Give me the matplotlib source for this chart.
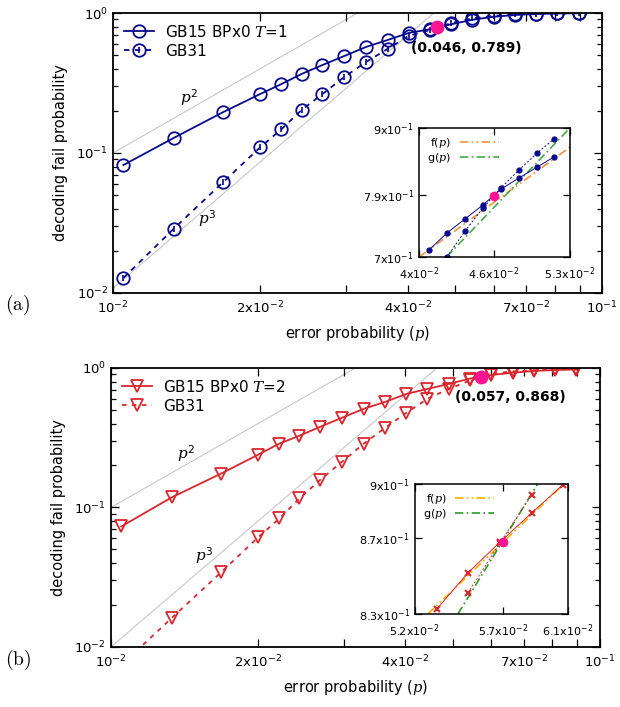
import numpy as np
import matplotlib.pyplot as plt
from matplotlib.ticker import FixedLocator, FixedFormatter, NullLocator, LogLocator
from matplotlib.legend_handler import HandlerTuple

plt.rcParams['mathtext.fontset'] = 'dejavuserif'

# shared error probabilities of the main curves
p_main = [0.0105, 0.0133, 0.0168, 0.0200, 0.0221, 0.0243, 0.0268, 0.0297, 0.0329, 0.0364,
          0.0402, 0.0444, 0.0491, 0.0543, 0.0600, 0.0663, 0.0733, 0.0810, 0.0895]

# panel (a), T=1
gb15_t1 = [0.082, 0.128, 0.196, 0.264, 0.311, 0.367, 0.425, 0.493, 0.572, 0.641,
           0.720, 0.765, 0.830, 0.895, 0.940, 0.968, 0.984, 0.992, 0.996]
gb31_t1 = [0.0128, 0.0287, 0.062, 0.110, 0.148, 0.203, 0.264, 0.349, 0.447, 0.553,
           0.685, 0.755, 0.845, 0.915, 0.955, 0.978, 0.990, 0.995, 0.998]
cross_t1 = (0.046, 0.789)

# inset (a)
ins_f_p_t1 = [0.04075, 0.04214, 0.04358, 0.04506, 0.0466, 0.0482, 0.04985, 0.05145]
ins_f_y_t1 = [0.7096, 0.7335, 0.7538, 0.7746, 0.799, 0.8164, 0.834, 0.8506]
ins_g_p_t1 = [0.04214, 0.04358, 0.04506, 0.0466, 0.0482, 0.04985, 0.05145]
ins_g_y_t1 = [0.700, 0.7363, 0.770, 0.8008, 0.8294, 0.857, 0.881]
fit_f_t1 = ([0.040, 0.053], [0.700, 0.867])
fit_g_t1 = ([0.0421, 0.053], [0.700, 0.900])

# panel (b), T=2
gb15_t2 = [0.0731, 0.118, 0.175, 0.239, 0.287, 0.327, 0.379, 0.440, 0.510, 0.572,
           0.652, 0.708, 0.769, 0.840, 0.891, 0.925, 0.952, 0.968, 0.975]
gb31_t2 = [0.0074, 0.0161, 0.0343, 0.0611, 0.0834, 0.116, 0.158, 0.213, 0.287, 0.373,
           0.477, 0.601, 0.708, 0.815, 0.910, 0.945, 0.966, 0.978, 0.985]
cross_t2 = (0.057, 0.868)

# inset (b)
ins_f_p_t2 = [0.05321, 0.05496, 0.05683, 0.05874, 0.06068]
ins_f_y_t2 = [0.8326, 0.8515, 0.868, 0.8839, 0.8995]
ins_g_p_t2 = [0.05496, 0.05683, 0.05874]
ins_g_y_t2 = [0.841, 0.8675, 0.894]
fit_f_t2 = ([0.05271, 0.06076], [0.830, 0.900])
fit_g_t2 = ([0.05439, 0.05911], [0.830, 0.900])

# reference slopes
ref_p = [0.01, 0.1]
p2_coef = [1000, 1000]
p3_coef = [1.08e4, 1.0e4]

x_ticks = [0.01, 0.02, 0.03, 0.04, 0.05, 0.06, 0.07, 0.08, 0.09, 0.1]
x_labels = [r'$\mathdefault{10^{-2}}$', r'$\mathdefault{2x10^{-2}}$', '', r'$\mathdefault{4x10^{-2}}$',
            '', '', r'$\mathdefault{7x10^{-2}}$', '', '', r'$\mathdefault{10^{-1}}$']

navy = '#0a0a8c'
red = '#d9272e'
pink = '#ff1493'


def style_main(ax):
    ax.set_xscale('log')
    ax.set_yscale('log')
    ax.set_xlim(0.01, 0.1)
    ax.set_ylim(0.01, 1)
    ax.xaxis.set_major_locator(FixedLocator(x_ticks))
    ax.xaxis.set_major_formatter(FixedFormatter(x_labels))
    ax.xaxis.set_minor_locator(NullLocator())
    ax.yaxis.set_major_locator(LogLocator(10))
    ax.yaxis.set_minor_locator(LogLocator(10, subs=np.arange(2, 10)))
    ax.tick_params(which='both', direction='in', top=True, right=True, labelsize=9.5)
    ax.tick_params(which='major', length=6, width=0.9)
    ax.tick_params(which='minor', length=3.5, width=0.9)
    ax.tick_params(axis='x', pad=5)
    for s in ax.spines.values():
        s.set_linewidth(1.3)
    ax.set_xlabel('error probability ($p$)', fontsize=10.5, labelpad=5.5)
    ax.set_ylabel('decoding fail probability', fontsize=10.5, labelpad=6)


def style_inset(ax, xlim, ylim, xt, xl, yt, yl):
    ax.set_xscale('log')
    ax.set_yscale('log')
    ax.set_xlim(*xlim)
    ax.set_ylim(*ylim)
    ax.xaxis.set_major_locator(FixedLocator(xt))
    ax.xaxis.set_major_formatter(FixedFormatter(xl))
    ax.yaxis.set_major_locator(FixedLocator(yt))
    ax.yaxis.set_major_formatter(FixedFormatter(yl))
    ax.xaxis.set_minor_locator(NullLocator())
    ax.yaxis.set_minor_locator(NullLocator())
    ax.tick_params(direction='in', top=True, right=True, labelsize=8, length=5, width=0.9)
    ax.tick_params(axis='x', pad=6)
    for s in ax.spines.values():
        s.set_linewidth(1.1)


fig = plt.figure(figsize=(6.2, 7.07), dpi=100)

# ---------------- panel (a)
ax = fig.add_axes([0.1823, 0.5856, 0.789, 0.396])
style_main(ax)
pr = np.array(ref_p)
ax.plot(pr, p2_coef[0] * pr**2, color='#c8c8c8', lw=0.8, zorder=1)
ax.plot(pr, p3_coef[0] * pr**3, color='#c8c8c8', lw=0.8, zorder=1)
l1, = ax.plot(p_main, gb15_t1, color=navy, lw=1.3, marker='o', ms=9, mfc='none', mew=1.3)
l2, = ax.plot(p_main, gb31_t1, color=navy, lw=1.3, ls=(0, (3, 3)), marker='o', ms=9, mfc='none', mew=1.3)
l2b, = ax.plot(p_main, gb31_t1, ls='none', color=navy, marker='|', ms=4, mew=1.2)
ax.plot(*cross_t1, 'o', color=pink, ms=9, zorder=5)
ax.text(0.0406, 0.562, '(0.046, 0.789)', fontsize=10, fontweight='bold', va='center')
ax.text(0.0143, 0.251, r'$p^{\mathregular{2}}$', fontsize=11, ha='center', va='center')
ax.text(0.01555, 0.0343, r'$p^{\mathregular{3}}$', fontsize=11, ha='center', va='center')
ax.legend([l1, (l2, l2b)], ['GB15 BPx0 $T$=1', 'GB31'], loc='upper left', frameon=False,
          fontsize=11, handlelength=2.0, handletextpad=0.7, borderaxespad=0.3, labelspacing=0.25,
          handler_map={tuple: HandlerTuple(ndivide=1)})
fig.text(0.008, 0.568, r'$\mathrm{(a)}$', fontsize=14, math_fontfamily='cm', va='center')

ins = fig.add_axes([0.6758, 0.6365, 0.2435, 0.1825])
style_inset(ins, (0.04, 0.053), (0.7, 0.9), [0.04, 0.046, 0.053],
            [r'$\mathdefault{4x10^{-2}}$', r'$\mathdefault{4.6x10^{-2}}$', r'$\mathdefault{5.3x10^{-2}}$'],
            [0.7, 0.79, 0.9],
            [r'$\mathdefault{7x10^{-1}}$', r'$\mathdefault{7.9x10^{-1}}$', r'$\mathdefault{9x10^{-1}}$'])
ins.plot(*fit_f_t1, color='#f59140', lw=1.2, dashes=(5, 2, 1, 2, 1, 2), label='f($p$)')
ins.plot(*fit_g_t1, color='#44aa44', lw=1.2, dashes=(5, 2, 1, 2), label='g($p$)')
ins.plot(ins_f_p_t1, ins_f_y_t1, color=navy, lw=0.7, marker='o', ms=3.5)
ins.plot(ins_g_p_t1, ins_g_y_t1, color=navy, lw=0.7, ls=(0, (2, 2)), marker='o', ms=3.5)
ins.plot(*cross_t1, 'o', color=pink, ms=6, zorder=5)
ins.legend(loc='upper left', frameon=False, fontsize=8, markerfirst=False, handlelength=3.5,
           labelspacing=0.1, borderaxespad=0.3)

# ---------------- panel (b)
ax = fig.add_axes([0.179, 0.0849, 0.7885, 0.3946])
style_main(ax)
ax.plot(pr, p2_coef[1] * pr**2, color='#c8c8c8', lw=0.8, zorder=1)
ax.plot(pr, p3_coef[1] * pr**3, color='#c8c8c8', lw=0.8, zorder=1)
l1, = ax.plot(p_main, gb15_t2, color=red, lw=1.3, marker='v', ms=9, mfc='none', mew=1.3)
l2, = ax.plot(p_main, gb31_t2, color=red, lw=1.3, ls=(0, (2.5, 3)), marker='v', ms=9, mfc='none', mew=1.3)
ax.plot(*cross_t2, 'o', color=pink, ms=9, zorder=5)
ax.text(0.0505, 0.621, '(0.057, 0.868)', fontsize=10, fontweight='bold', va='center')
ax.text(0.01427, 0.243, r'$p^{\mathregular{2}}$', fontsize=11, ha='center', va='center')
ax.text(0.0155, 0.0454, r'$p^{\mathregular{3}}$', fontsize=11, ha='center', va='center')
ax.legend([l1, l2], ['GB15 BPx0 $T$=2', 'GB31'], loc='upper left', frameon=False,
          fontsize=11, handlelength=2.0, handletextpad=0.7, borderaxespad=0.3, labelspacing=0.25)
fig.text(0.008, 0.066, r'$\mathrm{(b)}$', fontsize=14, math_fontfamily='cm', va='center')

ins = fig.add_axes([0.669, 0.1315, 0.2468, 0.1839])
style_inset(ins, (0.052, 0.061), (0.83, 0.9), [0.052, 0.057, 0.061],
            [r'$\mathdefault{5.2x10^{-2}}$', r'$\mathdefault{5.7x10^{-2}}$', r'$\mathdefault{6.1x10^{-2}}$'],
            [0.83, 0.87, 0.9],
            [r'$\mathdefault{8.3x10^{-1}}$', r'$\mathdefault{8.7x10^{-1}}$', r'$\mathdefault{9x10^{-1}}$'])
ins.plot(*fit_f_t2, color='#ffaa00', lw=1.2, dashes=(5, 2, 1, 2, 1, 2), label='f($p$)')
ins.plot(*fit_g_t2, color='#2a9a2a', lw=1.2, dashes=(5, 2, 1, 2), label='g($p$)')
ins.plot(ins_f_p_t2, ins_f_y_t2, color=red, lw=0.7, marker='x', ms=4, mew=1.5)
ins.plot(ins_g_p_t2, ins_g_y_t2, color=red, lw=0.7, ls=(0, (2, 2)), marker='x', ms=4, mew=1.5)
ins.plot(*cross_t2, 'o', color=pink, ms=6, zorder=5)
ins.legend(loc='upper left', frameon=False, fontsize=8, markerfirst=False, handlelength=3.5,
           labelspacing=0.1, borderaxespad=0.3)

fig.savefig('out.png', dpi=100)
